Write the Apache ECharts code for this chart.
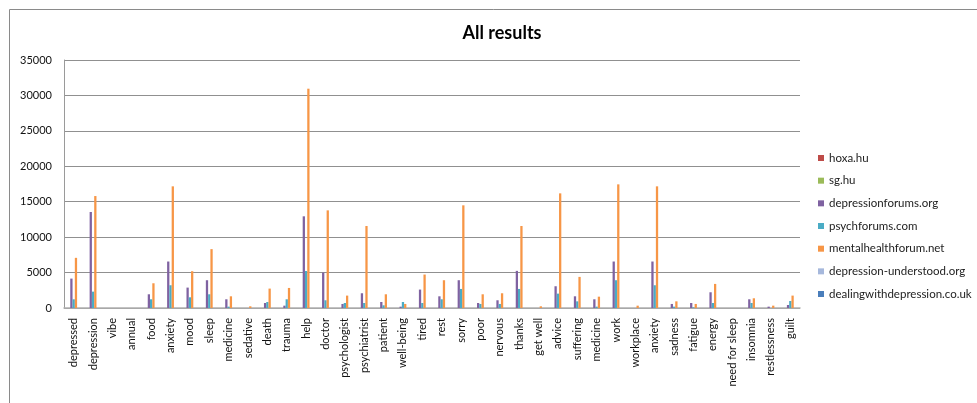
<!DOCTYPE html>
<html>
<head>
<meta charset="utf-8">
<script src="https://cdn.jsdelivr.net/npm/echarts@6/dist/echarts.min.js"></script>
<style>
html,body{margin:0;padding:0;background:#fff;}
#chart{width:977px;height:403px;}
</style>
</head>
<body>
<div id="chart"></div>
<script>
const categories = ["depressed","depression","vibe","annual","food","anxiety","mood","sleep","medicine","sedative","death","trauma","help","doctor","psychologist","psychiatrist","patient","well-being","tired","rest","sorry","poor","nervous","thanks","get well","advice","suffering","medicine","work","workplace","anxiety","sadness","fatigue","energy","need for sleep","insomnia","restlessness","guilt"];

const seriesNames = ["hoxa.hu","sg.hu","depressionforums.org","psychforums.com","mentalhealthforum.net","depression-understood.org","dealingwithdepression.co.uk"];

const hoxaHu = [0,0,0,0,0,0,0,0,0,0,0,0,0,0,0,0,0,0,0,0,0,0,0,0,0,0,0,0,0,0,0,0,0,0,0,0,0,0];
const sgHu = [0,0,0,0,0,0,0,0,0,0,0,0,0,0,0,0,0,0,0,0,0,0,0,0,0,0,0,0,0,0,0,0,0,0,0,0,0,0];
const depressionforums = [4150,13550,0,0,1935,6560,2880,3920,1230,0,710,330,12940,5000,570,2080,850,190,2600,1650,3920,710,1090,5240,0,3070,1650,1230,6560,0,6560,570,710,2220,0,1230,190,425];
const psychforums = [1230,2310,0,0,1230,3210,1510,1935,190,0,850,1230,5220,1090,710,710,380,850,710,1230,2690,570,570,2690,0,2030,940,190,3920,0,3210,190,100,710,0,710,0,990];
const mentalhealthforum = [7080,15800,0,0,3490,17170,5190,8310,1650,240,2740,2830,30950,13780,1750,11570,1935,570,4720,3920,14490,1935,2080,11570,240,16180,4390,1600,17450,330,17170,940,570,3400,0,1370,330,1750];
const depressionUnderstood = [0,0,0,0,0,0,0,0,0,0,0,0,0,0,0,0,0,0,0,0,0,0,0,0,0,0,0,0,0,0,0,0,0,0,0,0,0,0];
const dealingWithDepression = [0,0,0,0,0,0,0,0,0,0,0,0,0,0,0,0,0,0,0,0,0,0,0,0,0,0,0,0,0,0,0,0,0,0,0,0,0,0];

const yTicks = [0,5000,10000,15000,20000,25000,30000,35000];

const allData = [hoxaHu, sgHu, depressionforums, psychforums, mentalhealthforum, depressionUnderstood, dealingWithDepression];
const colors = ["#be4b48","#9bbb59","#7f62a1","#4aacc5","#f79646","#a6b8dc","#4a7ebb"];
const FONT = "Lato, 'Open Sans', sans-serif";

const chart = echarts.init(document.getElementById('chart'), null, {renderer:'canvas'});
chart.setOption({
  animation:false,
  backgroundColor:'#fff',
  color: colors,
  title:{
    text:'All results',
    left:497, top:19, textAlign:'center',
    textStyle:{fontFamily:FONT, fontSize:18, fontWeight:'bold', color:'#000'}
  },
  graphic:[{
    type:'rect', left:7, top:7, silent:true,
    shape:{width:1000, height:500},
    style:{fill:'none', stroke:'#8a8a8a', lineWidth:1}
  }],
  legend:{
    orient:'vertical', left:813, top:147, padding:5,
    itemWidth:6, itemHeight:6, itemGap:10.67, icon:'rect',
    textStyle:{fontFamily:FONT, fontSize:11.5, color:'#222', lineHeight:12},
    data: seriesNames
  },
  grid:{left:64, right:177, top:60, bottom:95, containLabel:false},
  xAxis:{
    type:'category', data:categories,
    axisLine:{lineStyle:{color:'#b0b0b0', width:1.5}},
    axisTick:{show:false},
    axisLabel:{rotate:90, interval:0, margin:10, fontFamily:FONT, fontSize:11, color:'#111'}
  },
  yAxis:{
    type:'value', min:yTicks[0], max:yTicks[yTicks.length-1], interval:5000,
    axisLine:{show:true, lineStyle:{color:'#9a9a9a'}},
    axisTick:{show:false},
    axisLabel:{fontFamily:FONT, fontSize:11, color:'#111', margin:12, formatter:(v)=>String(v)},
    splitLine:{lineStyle:{color:'#909090', width:1}}
  },
  series: seriesNames.map((n,i)=>({
    name:n, type:'bar', data:allData[i],
    barGap:'0%', barCategoryGap:'17.6%',
    itemStyle:{color:colors[i]}
  }))
});
</script>
</body>
</html>
